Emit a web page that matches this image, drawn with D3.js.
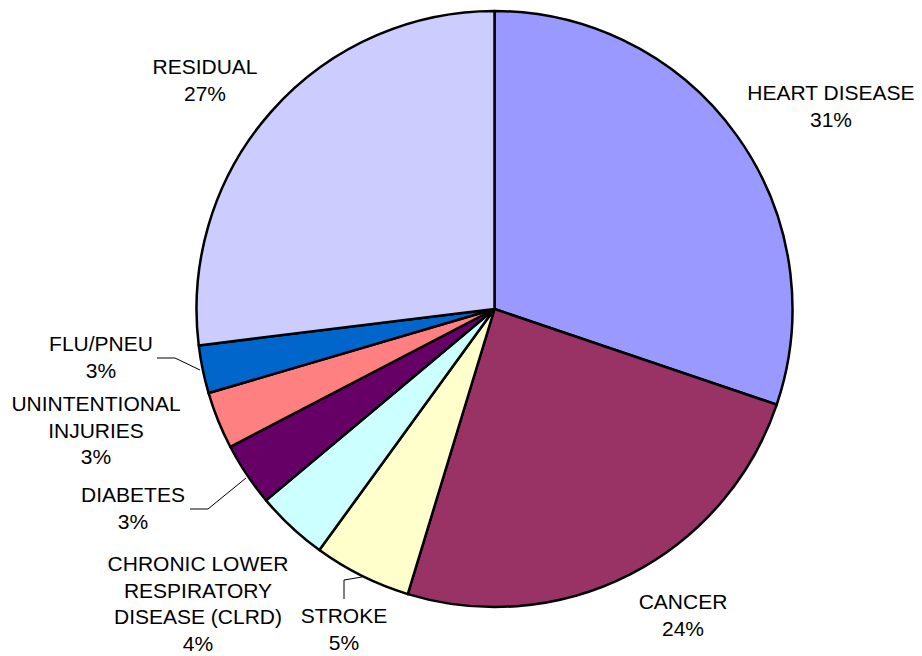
<!DOCTYPE html>
<html>
<head>
<meta charset="utf-8">
<script src="https://cdn.jsdelivr.net/npm/d3@7"></script>
<style>
  body { margin: 0; background: #fff; }
</style>
</head>
<body>
<div id="chart"></div>
<script>
// Data
const categories = ['HEART DISEASE', 'CANCER', 'STROKE', 'CHRONIC LOWER RESPIRATORY DISEASE (CLRD)',
                    'DIABETES', 'UNINTENTIONAL INJURIES', 'FLU/PNEU', 'RESIDUAL'];
const values = [30.2, 24.5, 5.3, 3.9, 3.45, 3.1, 2.6, 26.95];
const pctLabels = ['31%', '24%', '5%', '4%', '3%', '3%', '3%', '27%'];
const labelLines = [
  ['HEART DISEASE'], ['CANCER'], ['STROKE'],
  ['CHRONIC LOWER', 'RESPIRATORY', 'DISEASE (CLRD)'],
  ['DIABETES'], ['UNINTENTIONAL', 'INJURIES'], ['FLU/PNEU'], ['RESIDUAL']
];

// Constant
const colors = ['#9999FF', '#993366', '#FFFFCC', '#CCFFFF', '#660066', '#FF8080', '#0066CC', '#CCCCFF'];
const width = 922;
const height = 656;
const cx = 494.5;
const cy = 309;
const radius = 298;
const fontFamily = '"Liberation Sans", Arial, Helvetica, sans-serif';
const fontSize = '21px';
const lineHeight = 26.5;

// label anchor (center x, first baseline)
const labelPos = [
  {x: 831, y: 100}, {x: 683, y: 609}, {x: 344, y: 623}, {x: 198, y: 571},
  {x: 133, y: 502}, {x: 96, y: 411}, {x: 101, y: 351}, {x: 205, y: 74}
];
// leader lines
const leaders = [
  [[157, 358], [175, 358], [200, 370]],
  [[190, 509], [208, 509], [246, 478]],
  [[344, 599], [344, 580], [362, 577]]
];

const svg = d3.select('#chart')
  .append('svg')
    .attr('width', width)
    .attr('height', height);

const g = svg.append('g')
  .attr('transform', `translate(${cx},${cy})`);

const pie = d3.pie().sort(null).value(d => d)(values);
const arc = d3.arc().innerRadius(0).outerRadius(radius);

g.selectAll('path')
  .data(pie)
  .enter()
  .append('path')
    .attr('d', arc)
    .attr('fill', (d, i) => colors[i])
    .attr('stroke', '#000')
    .attr('stroke-width', 2.5)
    .attr('stroke-linejoin', 'round');

// Leader lines
svg.selectAll('.leader')
  .data(leaders)
  .enter()
  .append('path')
    .attr('class', 'leader')
    .attr('d', d => d3.line()(d))
    .attr('fill', 'none')
    .attr('stroke', '#000')
    .attr('stroke-width', 1);

// Labels
const labels = svg.selectAll('.label')
  .data(categories)
  .enter()
  .append('text')
    .attr('class', 'label')
    .attr('x', (d, i) => labelPos[i].x)
    .attr('y', (d, i) => labelPos[i].y)
    .attr('text-anchor', 'middle')
    .style('font-family', fontFamily)
    .style('font-size', fontSize)
    .attr('fill', '#000');

labels.each(function (d, i) {
  const t = d3.select(this);
  const lines = labelLines[i].concat([pctLabels[i]]);
  lines.forEach((ln, j) => {
    t.append('tspan')
      .attr('x', labelPos[i].x)
      .attr('dy', j === 0 ? 0 : lineHeight)
      .text(ln);
  });
});
</script>
</body>
</html>
